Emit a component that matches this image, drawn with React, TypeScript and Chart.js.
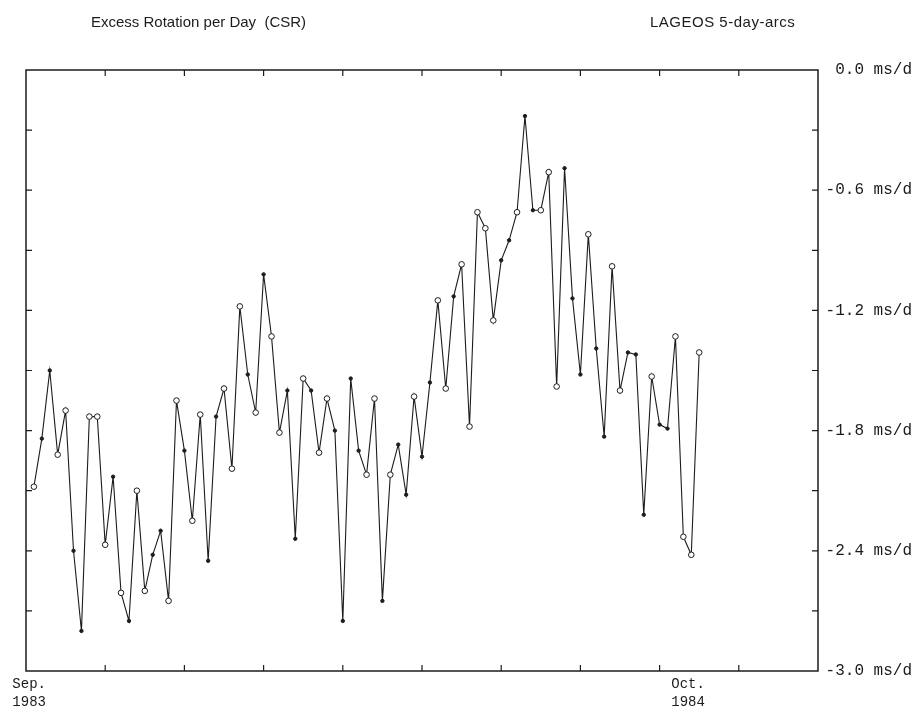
import React, { useEffect, useRef } from 'react';
import { Chart, registerables } from 'chart.js';

Chart.register(...registerables);

// ---- data ----
const titleLeft = 'Excess Rotation per Day  (CSR)';
const titleRight = 'LAGEOS 5-day-arcs';

const firstArcDay = 5; // days after start of axis
const arcStepDays = 5;

// excess rotation per day, ms/d, one value per 5-day arc
const excessRotation = [
  -2.08, -1.84, -1.50, -1.92, -1.70, -2.40, -2.80, -1.73, -1.73, -2.37,
  -2.03, -2.61, -2.75, -2.10, -2.60, -2.42, -2.30, -2.65, -1.65, -1.90,
  -2.25, -1.72, -2.45, -1.73, -1.59, -1.99, -1.18, -1.52, -1.71, -1.02,
  -1.33, -1.81, -1.60, -2.34, -1.54, -1.60, -1.91, -1.64, -1.80, -2.75,
  -1.54, -1.90, -2.02, -1.64, -2.65, -2.02, -1.87, -2.12, -1.63, -1.93,
  -1.56, -1.15, -1.59, -1.13, -0.97, -1.78, -0.71, -0.79, -1.25, -0.95,
  -0.85, -0.71, -0.23, -0.70, -0.70, -0.51, -1.58, -0.49, -1.14, -1.52,
  -0.82, -1.39, -1.83, -0.98, -1.60, -1.41, -1.42, -2.22, -1.53, -1.77,
  -1.79, -1.33, -2.33, -2.42, -1.41,
];

// marker kind per arc: 'o' open circle, '.' dot
const arcMarker = [
  'o', '.', '.', 'o', 'o', '.', '.', 'o', 'o', 'o',
  '.', 'o', '.', 'o', 'o', '.', '.', 'o', 'o', '.',
  'o', 'o', '.', '.', 'o', 'o', 'o', '.', 'o', '.',
  'o', 'o', '.', '.', 'o', '.', 'o', 'o', '.', '.',
  '.', '.', 'o', 'o', '.', 'o', '.', '.', 'o', '.',
  '.', 'o', 'o', '.', 'o', 'o', 'o', 'o', 'o', '.',
  '.', 'o', '.', '.', 'o', 'o', 'o', '.', '.', '.',
  'o', '.', '.', 'o', 'o', '.', '.', '.', 'o', '.',
  '.', 'o', 'o', 'o', 'o',
];

const yMin = -3.0;
const yMax = 0.0;
const yMinorStep = 0.3;
const yTickValues = [0, -0.6, -1.2, -1.8, -2.4, -3.0];
const yTickLabels = ['0.0 ms/d', '-0.6 ms/d', '-1.2 ms/d', '-1.8 ms/d', '-2.4 ms/d', '-3.0 ms/d'];

const xMaxDays = 500;
const xMinorStepDays = 50;
const xLabelDays = [2, 418];
const xLabels = [['Sep.', '1983'], ['Oct.', '1984']];

const INK = '#1c1c1c';

const framePlugin = {
  id: 'frameTicks',
  afterDatasetsDraw(chart: any) {
    const { ctx, chartArea, scales } = chart;
    const { left, right, top, bottom } = chartArea;
    const xs = scales.x;
    const ys = scales.y;
    const tl = 6;
    ctx.save();
    ctx.strokeStyle = INK;
    ctx.lineWidth = 1.5;
    ctx.strokeRect(left, top, right - left, bottom - top);
    ctx.lineWidth = 1.2;
    ctx.beginPath();
    for (let d = xMinorStepDays; d < xMaxDays - 1e-6; d += xMinorStepDays) {
      const px = xs.getPixelForValue(d);
      ctx.moveTo(px, top);
      ctx.lineTo(px, top + tl);
      ctx.moveTo(px, bottom);
      ctx.lineTo(px, bottom - tl);
    }
    for (let k = 1; yMax - k * yMinorStep > yMin + 1e-6; k++) {
      const py = ys.getPixelForValue(yMax - k * yMinorStep);
      ctx.moveTo(left, py);
      ctx.lineTo(left + tl, py);
      ctx.moveTo(right, py);
      ctx.lineTo(right - tl, py);
    }
    ctx.stroke();
    ctx.restore();
  },
};

export default function App() {
  const canvasRef = useRef<HTMLCanvasElement | null>(null);

  useEffect(() => {
    document.body.style.margin = '0';
    const canvas = canvasRef.current;
    if (!canvas) return;
    const points = excessRotation.map((v, i) => ({ x: firstArcDay + i * arcStepDays, y: v }));
    const chart = new Chart(canvas, {
      type: 'line',
      data: {
        datasets: [
          {
            data: points,
            borderColor: INK,
            borderWidth: 1.1,
            tension: 0,
            pointRadius: (c: any) => (arcMarker[c.dataIndex] === 'o' ? 2.8 : 1.7),
            pointBorderWidth: 1,
            pointBorderColor: INK,
            pointBackgroundColor: (c: any) => (arcMarker[c.dataIndex] === 'o' ? '#ffffff' : INK),
            clip: false,
          } as any,
        ],
      },
      options: {
        responsive: false,
        animation: false,
        devicePixelRatio: 1,
        layout: { padding: { left: 26, top: 70, right: 12, bottom: 0 } },
        plugins: { legend: { display: false }, tooltip: { enabled: false }, title: { display: false } },
        scales: {
          x: {
            type: 'linear',
            position: 'bottom',
            min: 0,
            max: xMaxDays,
            grid: { display: false, drawTicks: false },
            border: { display: false },
            afterBuildTicks: (s: any) => {
              s.ticks = xLabelDays.map((v) => ({ value: v }));
            },
            afterFit: (s: any) => {
              s.height = 41;
            },
            ticks: {
              autoSkip: false,
              maxRotation: 0,
              minRotation: 0,
              padding: 5,
              color: INK,
              font: { family: '"Liberation Mono", monospace', size: 14, lineHeight: 1.25 },
              callback: (_v: any, i: number) => xLabels[i],
            },
          },
          y: {
            type: 'linear',
            position: 'right',
            min: yMin,
            max: yMax,
            grid: { display: false, drawTicks: false },
            border: { display: false },
            afterBuildTicks: (s: any) => {
              s.ticks = yTickValues.map((v) => ({ value: v }));
            },
            afterFit: (s: any) => {
              s.width = 94;
            },
            ticks: {
              crossAlign: 'far',
              padding: 8,
              color: INK,
              font: { family: '"Liberation Mono", monospace', size: 16 },
              callback: (_v: any, i: number) => yTickLabels[i],
            },
          },
        },
      },
      plugins: [framePlugin],
    } as any);
    return () => chart.destroy();
  }, []);

  const titleStyle: React.CSSProperties = {
    position: 'absolute',
    top: 13,
    fontFamily: '"Liberation Sans", Arial, sans-serif',
    fontSize: 15,
    color: INK,
    whiteSpace: 'pre',
    lineHeight: '18px',
  };

  return (
    <div style={{ position: 'relative', width: 924, height: 712, background: '#fff' }}>
      <canvas ref={canvasRef} width={924} height={712} style={{ display: 'block' }} />
      <div style={{ ...titleStyle, left: 91 }}>{titleLeft}</div>
      <div style={{ ...titleStyle, left: 650, letterSpacing: '0.5px' }}>{titleRight}</div>
    </div>
  );
}
